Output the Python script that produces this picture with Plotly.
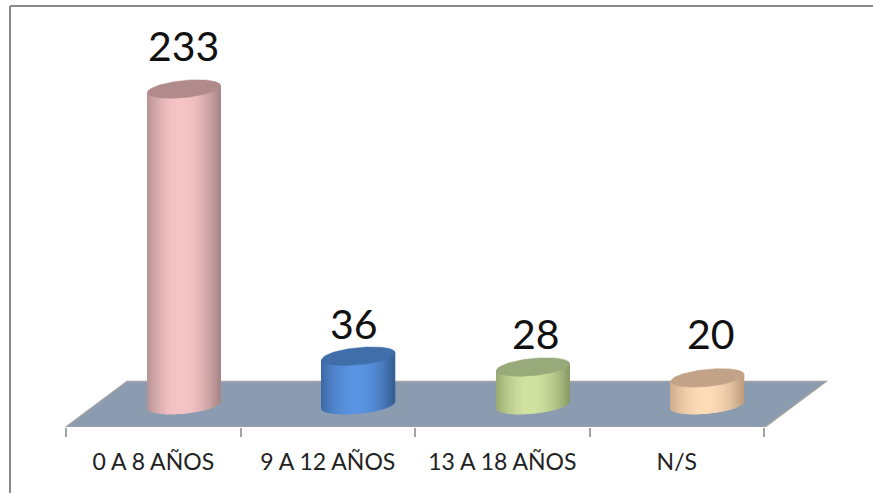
import numpy as np
import plotly.graph_objects as go

# Data
categories = ["0 A 8 AÑOS", "9 A 12 AÑOS", "13 A 18 AÑOS", "N/S"]
values = [233, 36, 28, 20]

# Styles
side_center = ["#f6c4c6", "#5a94e2", "#d0e3a0", "#fedcb8"]
side_edge = ["#a88788", "#375f96", "#8c9c68", "#c09f80"]
top_color = ["#b18b8c", "#3f6ea9", "#98a97a", "#c3a387"]
label_shift_x = [-1, -5, 3, 3]      # px
label_shift_y = [44, 33, 34, 44]    # px
FLOOR = "#8b9bb0"
GRAY = "#a3a3a3"

W, H = 873, 493
PX_Y = 1.356            # px per value unit
Y0 = 405.0              # pixel row of value 0 (cylinder centre)
FRONT = 427.0           # pixel row of floor front edge
BACK = 381.5            # pixel row of floor back edge
PX_X = 174.5            # px per category
X0 = 153.3              # pixel column of category 0 label
DEPTH = 30.7            # px shift of the cylinders from label centre
A = 36.6                # cylinder half width, px
B = 8.6                 # ellipse half height, px
SHEAR = 0.095           # ellipse tilt

def xd(px):
    return (px - X0) / PX_X

def yd(py):
    return (Y0 - py) / PX_Y

fig = go.Figure()

# Floor parallelogram, under the bars
floor_pts = [(66, FRONT), (765, FRONT), (826, BACK), (127, BACK)]
floor_path = "M " + " L ".join(f"{xd(a):.5f},{yd(b):.5f}" for a, b in floor_pts) + " Z"
fig.add_shape(type="path", path=floor_path, xref="x", yref="y", layer="below",
              fillcolor=FLOOR, line=dict(color=GRAY, width=1.5))

def hex2rgb(h):
    return np.array([int(h[i:i + 2], 16) for i in (1, 3, 5)], float)

N = 74
for i, v in enumerate(values):
    cx = i + DEPTH / PX_X
    dx = (np.arange(N) + 0.5) / N * 2 - 1        # -1..1 across the cylinder
    mix = np.abs(dx + 0.06) ** 2.0
    mix = np.clip(mix / mix.max(), 0, 1)
    c0, c1 = hex2rgb(side_center[i]), hex2rgb(side_edge[i])
    colors = ["rgb(%d,%d,%d)" % tuple(c0 + (c1 - c0) * m) for m in mix]
    tilt = SHEAR * A * dx / PX_Y                 # value units
    base = tilt - B * np.sqrt(1 - dx ** 2) / PX_Y
    top = v + tilt
    fig.add_trace(go.Bar(x=cx + dx * A / PX_X, base=base, y=top - base,
                         width=1.4 * 2 * A / N / PX_X,
                         marker=dict(color=colors, line=dict(width=0)),
                         hoverinfo="skip", showlegend=False))
    t = np.linspace(0, 2 * np.pi, 121)
    ex = cx + A * np.cos(t) / PX_X
    ey = v + SHEAR * A * np.cos(t) / PX_Y + B * np.sin(t) / PX_Y
    fig.add_trace(go.Scatter(x=ex, y=ey, mode="lines", fill="toself",
                             fillcolor=top_color[i],
                             line=dict(color=top_color[i], width=0.5),
                             hoverinfo="skip", showlegend=False))
    fig.add_annotation(x=cx, y=v, text=str(v), showarrow=False,
                       xshift=label_shift_x[i], yshift=label_shift_y[i],
                       font=dict(family="Lato", size=41, color="#111111"))

# Frame
fig.add_shape(type="line", xref="paper", yref="paper", x0=10 / W, x1=1,
              y0=1 - 6 / H, y1=1 - 6 / H, line=dict(color="#888888", width=2))
fig.add_shape(type="line", xref="paper", yref="paper", x0=10 / W, x1=10 / W,
              y0=0, y1=1 - 6 / H, line=dict(color="#888888", width=2))

fig.update_layout(
    width=W, height=H, margin=dict(l=0, r=0, t=0, b=0),
    paper_bgcolor="white", plot_bgcolor="white", barmode="overlay",
    showlegend=False,
    xaxis=dict(range=[xd(0), xd(W)], tickmode="array",
               tickvals=list(range(len(categories))), ticktext=categories,
               ticks="", showgrid=False, zeroline=False, showline=False,
               ticklabelstandoff=19,
               tickfont=dict(family="Lato", size=23, color="#222222"),
               minor=dict(tickmode="array",
                          tickvals=[k - 0.5 for k in range(len(categories) + 1)],
                          ticks="outside", ticklen=9, tickwidth=1.5,
                          tickcolor=GRAY, showgrid=False)),
    yaxis=dict(domain=[(H - FRONT) / H, 1], range=[yd(FRONT), yd(0)],
               visible=False, showgrid=False, zeroline=False),
)

fig.write_html("out.html", config={"displayModeBar": False},
               post_script="document.body.style.margin='0';document.body.style.overflow='hidden';")
